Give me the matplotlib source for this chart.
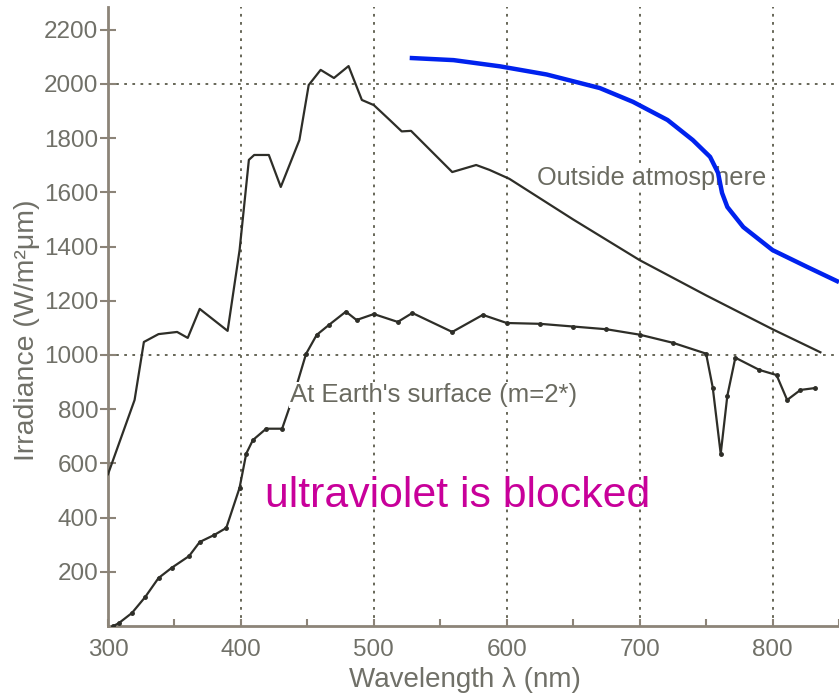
import numpy as np
import matplotlib.pyplot as plt

# outside atmosphere spectrum (nm, W/m2/um)
wl_out = [300, 320, 327, 338, 352, 360, 369, 390, 399, 406, 410, 421, 430, 444,
          451, 460, 470, 481, 491, 500, 512, 521, 528, 559, 577, 587, 602, 650,
          700, 750, 800, 836]
irr_out = [560, 834, 1048, 1077, 1085, 1063, 1170, 1089, 1387, 1720, 1738, 1738,
           1620, 1793, 1996, 2052, 2022, 2066, 1941, 1922, 1867, 1825, 1827, 1675,
           1701, 1683, 1650, 1500, 1350, 1220, 1095, 1010]

# at Earth's surface
wl_sfc = [304, 308, 318, 328, 338, 348, 361, 369, 380, 389, 399, 404, 409, 419,
          431, 440, 449, 457, 466, 479, 487, 500, 518, 529, 559, 582, 600, 625,
          650, 675, 700, 725, 750, 755, 761, 766, 772, 790, 803, 811, 821, 832]
irr_sfc = [0, 10, 48, 107, 177, 215, 258, 310, 336, 362, 510, 636, 686, 728,
           728, 856, 1004, 1074, 1110, 1160, 1129, 1151, 1122, 1155, 1085, 1148,
           1118, 1115, 1105, 1095, 1075, 1045, 1005, 880, 635, 850, 990, 945,
           926, 834, 871, 878]

# hand-drawn blue annotation curve
blue_x = [527, 560, 595, 630, 670, 695, 721, 740, 753, 759, 762, 766, 778, 800,
          826, 850]
blue_y = [2096, 2088, 2065, 2035, 1985, 1934, 1867, 1793, 1731, 1672, 1598, 1546,
          1472, 1387, 1325, 1269]

plt.rcParams['font.family'] = ['Liberation Sans', 'DejaVu Sans']

fig = plt.figure(figsize=(8.39, 6.95), dpi=100)
ax = fig.add_axes([108/839, 69/695, 731/839, 619/695])

grid_col = '#5a5a4a'
for x in [400, 500, 600, 700, 800]:
    ax.axvline(x, color=grid_col, lw=1.3, ls=(0, (1.5, 3)), zorder=1)
for y in [1000, 2000]:
    ax.axhline(y, color=grid_col, lw=1.3, ls=(0, (1.5, 3)), zorder=1)

ax.plot(wl_out, irr_out, color='#2e2e28', lw=1.6, zorder=3)
ax.plot(wl_sfc, irr_sfc, color='#2e2e28', lw=1.6, marker='o', ms=2.5, zorder=3)

txt_col = '#6a6a60'
ax.text(623, 1653, 'Outside atmosphere', fontsize=18.3, color=txt_col,
        va='center', ha='left', zorder=4,
        bbox=dict(facecolor='white', edgecolor='none', pad=1))
ax.text(437, 852, "At Earth's surface (m=2*)", fontsize=18.5, color=txt_col,
        va='center', ha='left', zorder=4,
        bbox=dict(facecolor='white', edgecolor='none', pad=1))

ax.plot(blue_x, blue_y, color='#0022ee', lw=3.2, clip_on=False, zorder=5,
        solid_capstyle='butt', solid_joinstyle='round')

ax.text(418, 439, 'ultraviolet is blocked', fontsize=30.8, color='#c8009a',
        va='baseline', ha='left', zorder=6)

ax.set_xlim(300, 850)
ax.set_ylim(0, 2284)
ax.set_xticks([300, 400, 500, 600, 700, 800])
ax.set_xticks([350, 450, 550, 650, 750, 850], minor=True)
ax.set_yticks(np.arange(200, 2201, 200))

spine_col = '#8c8478'
for s in ['top', 'right']:
    ax.spines[s].set_visible(False)
for s in ['left', 'bottom']:
    ax.spines[s].set_color(spine_col)
    ax.spines[s].set_linewidth(2)

lab_col = '#707068'
ax.tick_params(axis='y', direction='inout', length=12, width=1.5, color=spine_col,
               labelsize=17.5, labelcolor=lab_col, pad=1)
ax.tick_params(axis='x', which='both', direction='in', length=5, width=1.5,
               color=spine_col, labelsize=17.5, labelcolor=lab_col, pad=9)

ax.set_xlabel('Wavelength λ (nm)', fontsize=20, color=lab_col)
ax.set_ylabel('Irradiance (W/m²μm)', fontsize=20.5, color=lab_col)
ax.xaxis.set_label_coords(0.488, -0.066)
ax.yaxis.set_label_coords(-0.093, 0.478)

fig.savefig('out.png', dpi=100)
